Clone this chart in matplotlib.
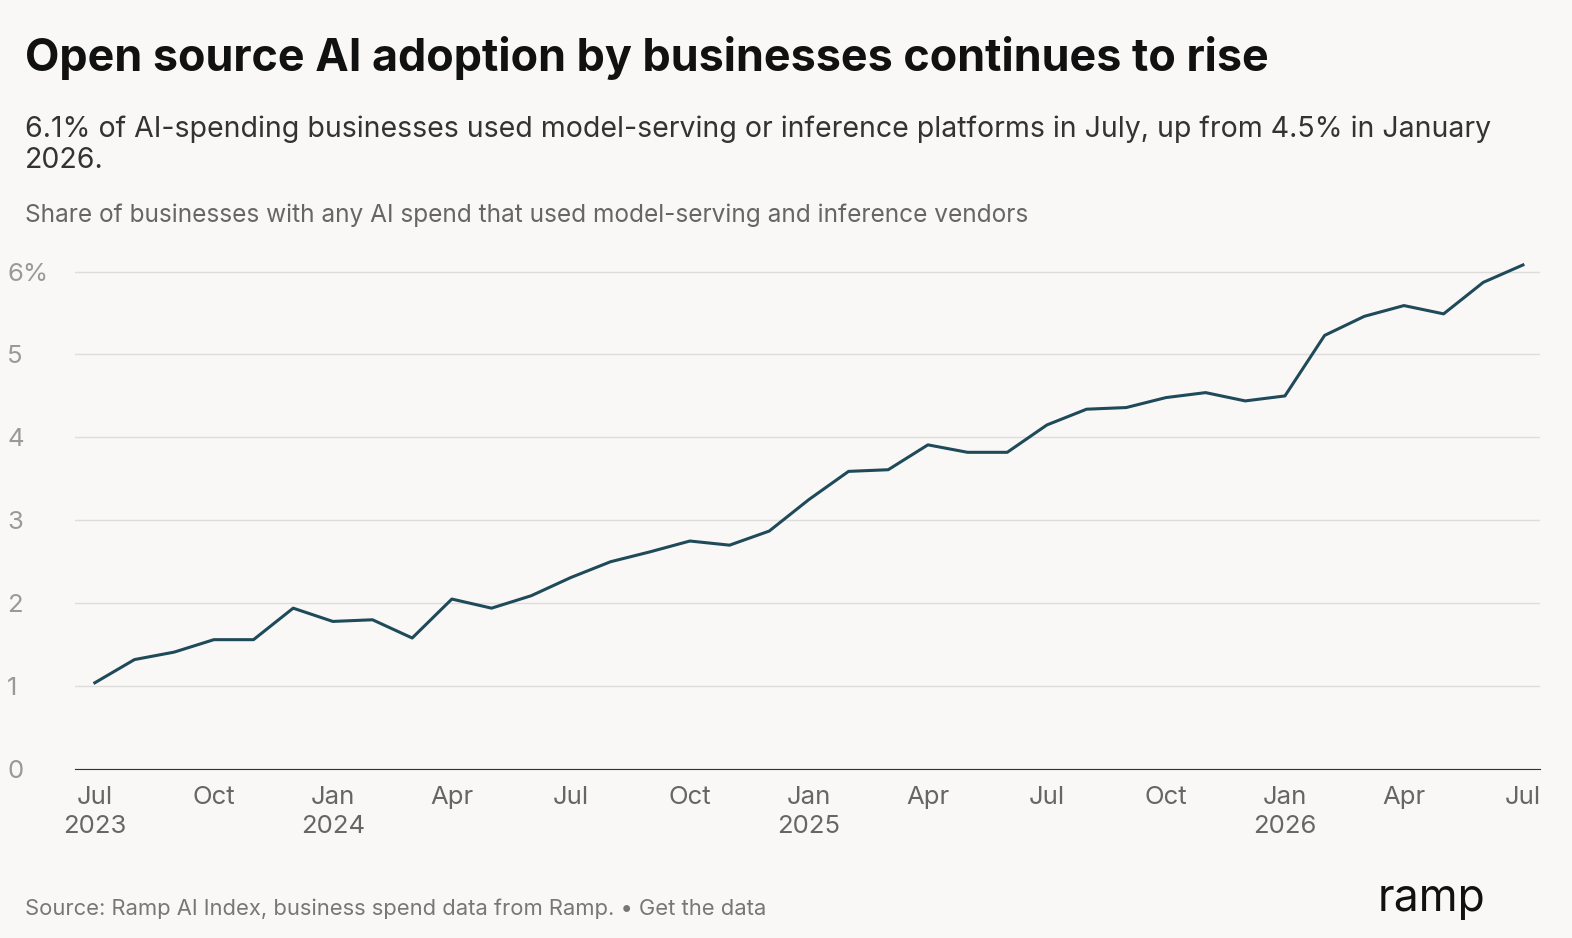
import matplotlib.pyplot as plt
import numpy as np

plt.rcParams['font.family'] = ['Inter', 'DejaVu Sans']

months = list(range(37))  # Jul 2023 .. Jul 2026
share = [1.04, 1.32, 1.41, 1.56, 1.56, 1.94, 1.78, 1.80, 1.58, 2.05, 1.94, 2.09,
         2.31, 2.50, 2.62, 2.75, 2.70, 2.87, 3.25, 3.59, 3.61, 3.91, 3.82, 3.82,
         4.15, 4.34, 4.36, 4.48, 4.54, 4.44, 4.50, 5.23, 5.46, 5.59, 5.49, 5.87, 6.08]
tick_pos = [0, 3, 6, 9, 12, 15, 18, 21, 24, 27, 30, 33, 36]
tick_labels = ['Jul\n2023', 'Oct', 'Jan\n2024', 'Apr', 'Jul', 'Oct', 'Jan\n2025',
               'Apr', 'Jul', 'Oct', 'Jan\n2026', 'Apr', 'Jul']
y_ticks = [0, 1, 2, 3, 4, 5, 6]
y_labels = ['0', '1', '2', '3', '4', '5', '6%']

bg = '#f9f8f6'
fig = plt.figure(figsize=(15.72, 9.38), dpi=100, facecolor=bg)
ax = fig.add_axes([75/1572, 1-769/938, (1540-75)/1572, (769-255)/938], facecolor=bg)

ax.plot(months, share, color='#1f4a59', linewidth=2.2)

ax.set_xlim(-0.5, 36.43)
ax.set_ylim(0, 6.2)
ax.set_yticks(y_ticks)
ax.set_yticklabels(y_labels)
ax.set_xticks(tick_pos)
ax.set_xticklabels(tick_labels, linespacing=1.35)
ax.grid(axis='y', color='#dedddb', linewidth=1)
ax.tick_params(axis='y', length=0, labelsize=18.5, labelcolor='#999999', pad=12)
ax.tick_params(axis='x', length=0, labelsize=18.5, labelcolor='#666666', pad=12)
for lab in ax.get_yticklabels():
    lab.set_horizontalalignment('left')
    lab.set_x(-0.035)
for s in ['top', 'right', 'left']:
    ax.spines[s].set_visible(False)
ax.spines['bottom'].set_color('#333333')
ax.set_axisbelow(True)

fig.text(25/1572, 1-58/938, 'Open source AI adoption by businesses continues to rise',
         fontsize=32.3, fontweight='bold', color='#111111', va='center')
fig.text(25/1572, 1-145/938,
         '6.1% of AI-spending businesses used model-serving or inference platforms in July, up from 4.5% in January\n2026.',
         fontsize=20.5, color='#333333', va='center', linespacing=1.2)
fig.text(25/1572, 1-215/938,
         'Share of businesses with any AI spend that used model-serving and inference vendors',
         fontsize=17.6, color='#666666', va='center')
fig.text(25/1572, 1-909/938,
         'Source: Ramp AI Index, business spend data from Ramp. \u2022 Get the data',
         fontsize=15.8, color='#777777', va='center')
fig.text(1485/1572, 1-899/938, 'ramp', fontsize=32, color='#111111',
         va='center', ha='right')

fig.savefig('out.png', dpi=100, facecolor=bg)
